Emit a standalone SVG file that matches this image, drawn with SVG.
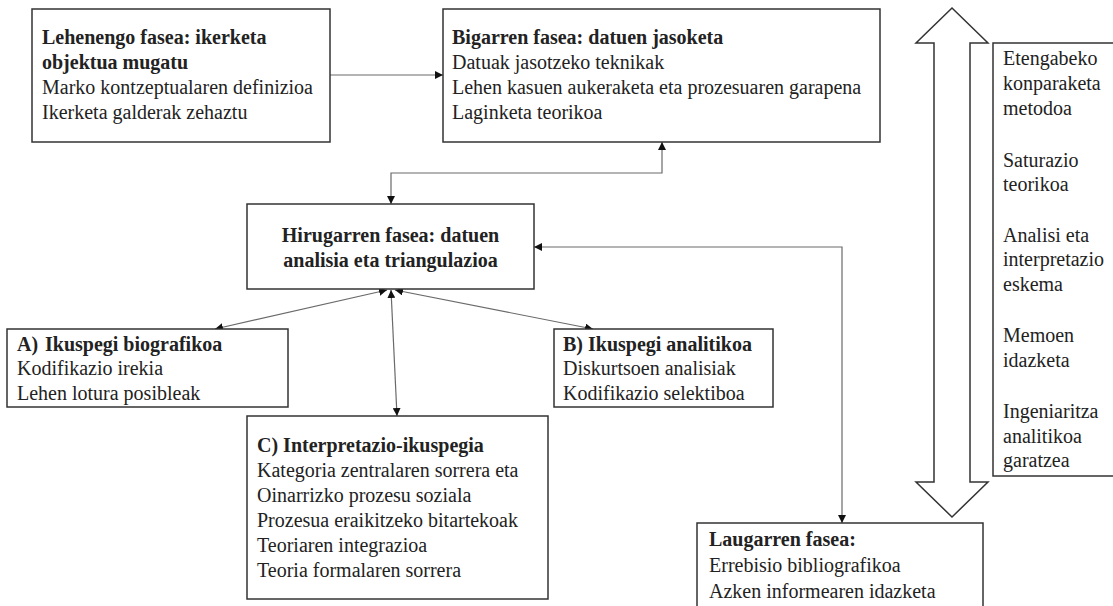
<svg xmlns="http://www.w3.org/2000/svg" width="1113" height="606" viewBox="0 0 1113 606">
  <style>
    .box { fill: #ffffff; stroke: #333333; stroke-width: 1.5; }
    .t { font-family: "Liberation Serif", "Times New Roman", serif; font-size: 20px; fill: #222222; }
    .b { font-weight: bold; }
    .c { text-anchor: middle; }
    .link { fill: none; stroke: #6a6a6a; stroke-width: 1.2; }
    .big { fill: #ffffff; stroke: #333333; stroke-width: 1.5; stroke-linejoin: miter; }
  </style>
  <defs>
    <marker id="head" viewBox="0 0 10 10" refX="10" refY="5" markerWidth="8" markerHeight="8" markerUnits="userSpaceOnUse" orient="auto-start-reverse">
      <path d="M0,0 L10,5 L0,10 Z" fill="#111111"/>
    </marker>
  </defs>

  <rect width="1113" height="606" fill="#ffffff"/>

  <!-- connectors -->
  <g id="connectors">
    <line class="link" x1="330" y1="75" x2="443" y2="75" marker-end="url(#head)"/>
    <polyline class="link" points="662,142 662,173 391,173 391,204" marker-start="url(#head)" marker-end="url(#head)"/>
    <polyline class="link" points="534,247 842,247 842,523" marker-start="url(#head)" marker-end="url(#head)"/>
    <line class="link" x1="387" y1="290" x2="215" y2="329" marker-start="url(#head)" marker-end="url(#head)"/>
    <line class="link" x1="395" y1="290" x2="593" y2="329" marker-start="url(#head)" marker-end="url(#head)"/>
    <line class="link" x1="391" y1="290" x2="397" y2="416" marker-start="url(#head)" marker-end="url(#head)"/>
  </g>

  <!-- phase 1 -->
  <g id="phase1">
    <rect class="box" x="32" y="9" width="298" height="133"/>
    <text class="t b" x="42" y="44">Lehenengo fasea: ikerketa</text>
    <text class="t b" x="42" y="69">objektua mugatu</text>
    <text class="t" x="42" y="94">Marko kontzeptualaren definizioa</text>
    <text class="t" x="42" y="119">Ikerketa galderak zehaztu</text>
  </g>

  <!-- phase 2 -->
  <g id="phase2">
    <rect class="box" x="443" y="9" width="437" height="133"/>
    <text class="t b" x="452" y="44">Bigarren fasea: datuen jasoketa</text>
    <text class="t" x="452" y="69">Datuak jasotzeko teknikak</text>
    <text class="t" x="452" y="94">Lehen kasuen aukeraketa eta prozesuaren garapena</text>
    <text class="t" x="452" y="119">Laginketa teorikoa</text>
  </g>

  <!-- phase 3 -->
  <g id="phase3">
    <rect class="box" x="247" y="204" width="287" height="85"/>
    <text class="t b c" x="390.5" y="242">Hirugarren fasea: datuen</text>
    <text class="t b c" x="390.5" y="267">analisia eta triangulazioa</text>
  </g>

  <!-- perspective A -->
  <g id="viewA">
    <rect class="box" x="7" y="329" width="281" height="78"/>
    <text class="t b" x="17" y="351">A)<tspan x="45">Ikuspegi biografikoa</tspan></text>
    <text class="t" x="17" y="375">Kodifikazio irekia</text>
    <text class="t" x="17" y="400">Lehen lotura posibleak</text>
  </g>

  <!-- perspective B -->
  <g id="viewB">
    <rect class="box" x="554" y="329" width="219" height="78"/>
    <text class="t b" x="563" y="351">B) Ikuspegi analitikoa</text>
    <text class="t" x="563" y="375">Diskurtsoen analisiak</text>
    <text class="t" x="563" y="400">Kodifikazio selektiboa</text>
  </g>

  <!-- perspective C -->
  <g id="viewC">
    <rect class="box" x="247" y="416" width="301" height="183"/>
    <text class="t b" x="257" y="452">C) Interpretazio-ikuspegia</text>
    <text class="t" x="257" y="477">Kategoria zentralaren sorrera eta</text>
    <text class="t" x="257" y="502">Oinarrizko prozesu soziala</text>
    <text class="t" x="257" y="527">Prozesua eraikitzeko bitartekoak</text>
    <text class="t" x="257" y="552">Teoriaren integrazioa</text>
    <text class="t" x="257" y="577">Teoria formalaren sorrera</text>
  </g>

  <!-- phase 4 -->
  <g id="phase4">
    <rect class="box" x="697" y="523" width="286" height="100"/>
    <text class="t b" x="709" y="546">Laugarren fasea:</text>
    <text class="t" x="709" y="572">Errebisio bibliografikoa</text>
    <text class="t" x="709" y="598">Azken informearen idazketa</text>
  </g>

  <!-- two-way block arrow -->
  <g id="cycleArrow">
    <polygon class="big" points="952,8 988,43 970,43 970,482 988,482 952,517 916,482 934,482 934,43 916,43"/>
  </g>

  <!-- method list -->
  <g id="methods">
    <rect class="box" x="993" y="43" width="130" height="433"/>
    <text class="t" x="1003" y="65">Etengabeko</text>
    <text class="t" x="1003" y="90">konparaketa</text>
    <text class="t" x="1003" y="115">metodoa</text>
    <text class="t" x="1003" y="167">Saturazio</text>
    <text class="t" x="1003" y="191">teorikoa</text>
    <text class="t" x="1003" y="242">Analisi eta</text>
    <text class="t" x="1003" y="266">interpretazio</text>
    <text class="t" x="1003" y="291">eskema</text>
    <text class="t" x="1003" y="342">Memoen</text>
    <text class="t" x="1003" y="367">idazketa</text>
    <text class="t" x="1003" y="418">Ingeniaritza</text>
    <text class="t" x="1003" y="443">analitikoa</text>
    <text class="t" x="1003" y="467">garatzea</text>
  </g>
</svg>
